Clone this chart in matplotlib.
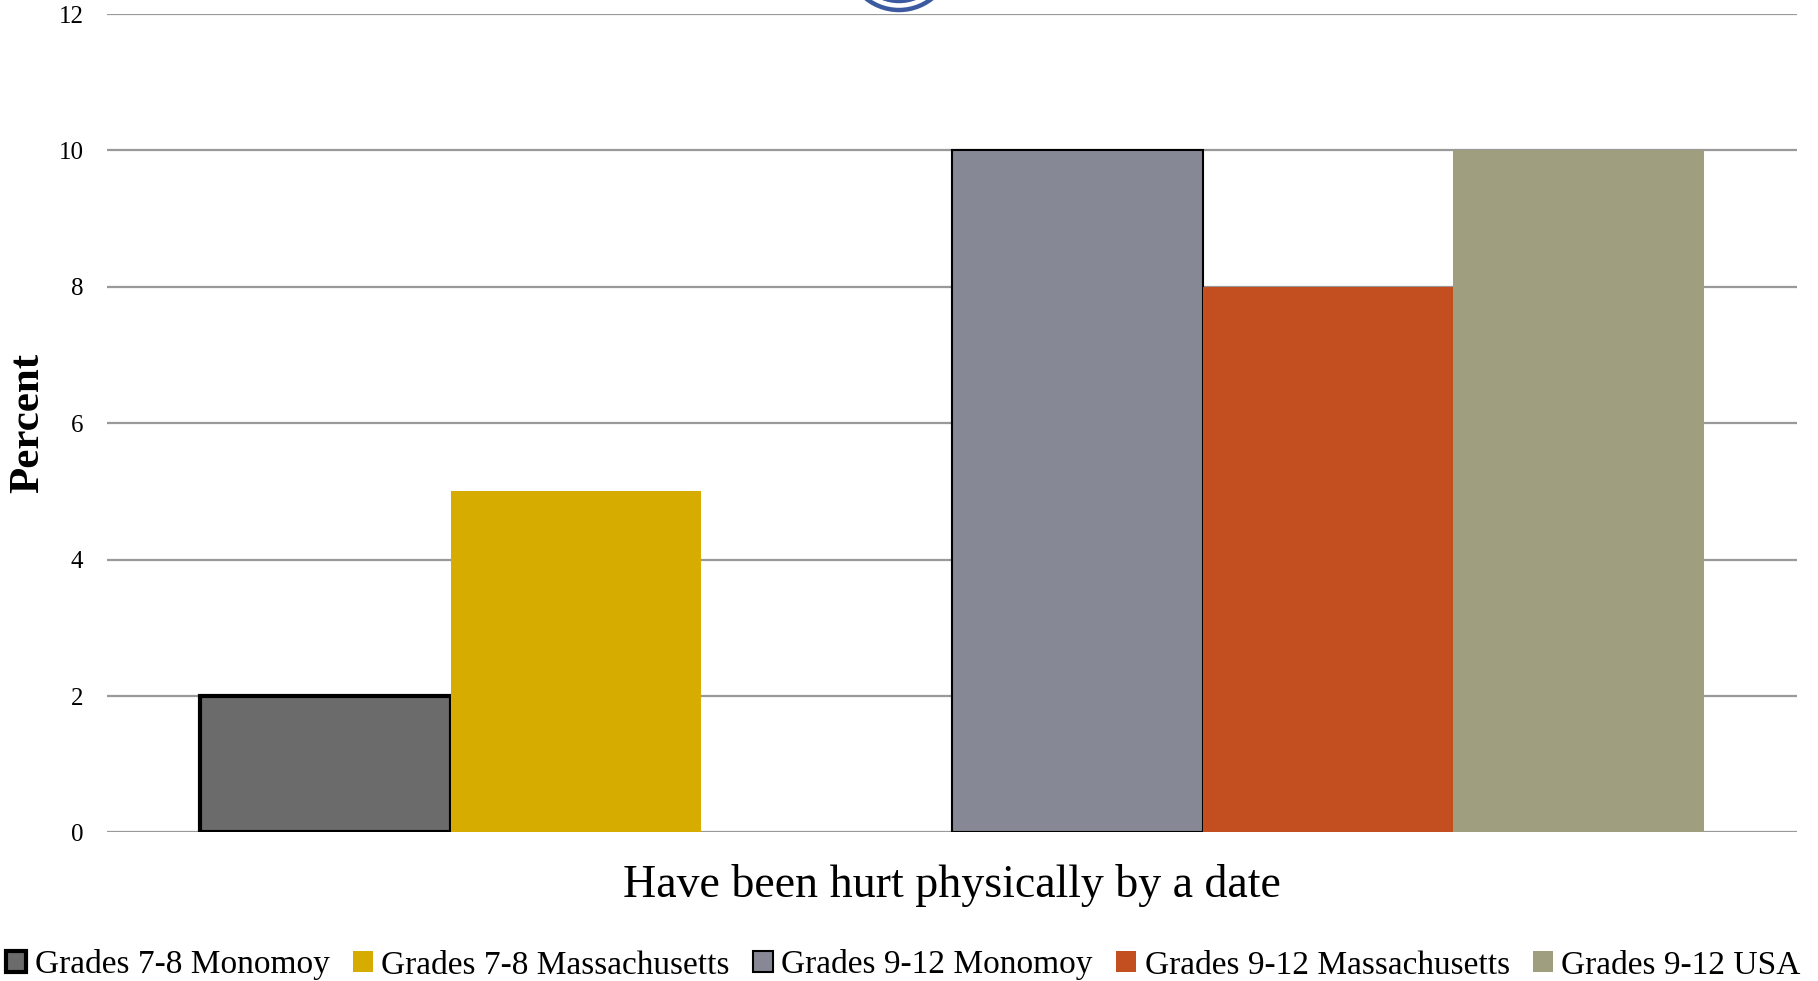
import matplotlib
matplotlib.use("Agg")
import matplotlib.pyplot as plt
from matplotlib.patches import Ellipse

# ── Data ──────────────────────────────────────────────────────────────────────
category = "Have been hurt physically by a date"
series = [
    "Grades 7-8 Monomoy",
    "Grades 7-8 Massachusetts",
    "Grades 9-12 Monomoy",
    "Grades 9-12 Massachusetts",
    "Grades 9-12 USA",
]
values = [2, 5, 10, 8, 10]
yticks = [0, 2, 4, 6, 8, 10, 12]

colors = ["#6b6b6b", "#d6ac00", "#878896", "#c34f21", "#9f9f80"]
edges = ["#000000", "none", "#000000", "none", "none"]
edge_w = [3.0, 0, 1.5, 0, 0]

# six slots in the cluster, third one left empty
slots = [0, 1, 3, 4, 5]

plt.rcParams["font.family"] = ["Liberation Serif", "DejaVu Serif"]

W, H = 1818, 981
fig = plt.figure(figsize=(W / 100, H / 100), dpi=100)
ax = fig.add_axes([0.0589, 0.1514, 0.9295, 0.8343])

for i, (name, v) in enumerate(zip(series, values)):
    x = slots[i] - 2.5
    ax.bar(x, v, width=1.0, color=colors[i], edgecolor=edges[i],
           linewidth=edge_w[i], label=name, zorder=3)

ax.set_xlim(-3.371, 3.371)
ax.set_ylim(0, 12)
ax.set_yticks(yticks)
ax.set_yticklabels([str(t) for t in yticks], fontsize=18)
ax.set_xticks([])
ax.yaxis.grid(True, color="#999999", linewidth=1.6, zorder=0)
ax.tick_params(axis="y", length=0, pad=17)
for s in ax.spines.values():
    s.set_visible(False)

ax.set_ylabel("Percent", fontsize=31, fontweight="bold", labelpad=8)
ax.set_xlabel(category, fontsize=33, labelpad=23)

# partial logo ring peeking in at the top
for r, lw in [(53, 3.2), (44, 3.2)]:
    fig.patches.append(Ellipse((899 / W, 1 + 43 / H), 2 * r / W, 2 * r / H,
                               transform=fig.transFigure, fill=False,
                               edgecolor="#3c5aa0", linewidth=lw))

fig.legend(loc="center", bbox_to_anchor=(0.497, 1 - 965 / H), ncol=5,
           frameon=False, fontsize=24, handlelength=0.6, handleheight=0.6,
           handletextpad=0.25, columnspacing=0.7, borderaxespad=0)

fig.savefig("out.png", dpi=100)
